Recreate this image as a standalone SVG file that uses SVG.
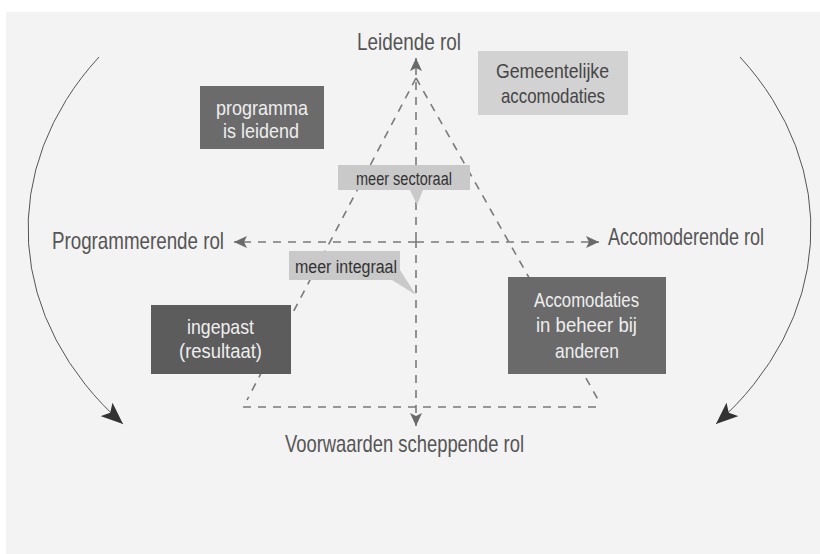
<svg xmlns="http://www.w3.org/2000/svg" width="820" height="554" viewBox="0 0 820 554">
<style>
.axis{font-family:"Liberation Sans Narrow","Liberation Sans",Arial,sans-serif;font-size:24px;fill:#555555}
.bt{font-family:"Liberation Sans Narrow","Liberation Sans",Arial,sans-serif;font-size:21px;fill:#eeeeee}
.btd{font-family:"Liberation Sans Narrow","Liberation Sans",Arial,sans-serif;font-size:21px;fill:#454545}
.ct{font-family:"Liberation Sans Narrow","Liberation Sans",Arial,sans-serif;font-size:18px;fill:#333333}
.dash{stroke:#7a7a7a;stroke-width:1.6;stroke-dasharray:8 7;fill:none}
.arc{stroke:#555555;stroke-width:1;fill:none}
</style>
<defs>
<marker id="dk" markerUnits="userSpaceOnUse" markerWidth="24" markerHeight="18" refX="22" refY="9" orient="auto">
<path d="M0,0 L22,9 L0,18 L5,9 Z" fill="#333333"/>
</marker>
<marker id="ax" markerUnits="userSpaceOnUse" markerWidth="14" markerHeight="12" refX="13" refY="6" orient="auto">
<path d="M0,0 L13,6 L0,12 L3,6 Z" fill="#6a6a6a"/>
</marker>
</defs>
<rect x="6" y="12" width="814" height="542" fill="#f3f3f3"/>
<g id="connectors">
<path class="arc" d="M 99 57 A 385 297 0 0 0 123 424" marker-end="url(#dk)"/>
<path class="arc" d="M 740 57 A 385 297 0 0 1 716 424" marker-end="url(#dk)"/>
<line class="dash" x1="416" y1="78" x2="247" y2="400"/>
<line class="dash" x1="416" y1="78" x2="600" y2="403"/>
<line class="dash" x1="243" y1="407" x2="603" y2="407"/>
<line class="dash" x1="416" y1="240" x2="416" y2="58" marker-end="url(#ax)"/>
<line class="dash" x1="416" y1="240" x2="416" y2="426" marker-end="url(#ax)"/>
<line class="dash" x1="416" y1="242" x2="234" y2="242" marker-end="url(#ax)"/>
<line class="dash" x1="416" y1="242" x2="599" y2="242" marker-end="url(#ax)"/>
</g>
<g id="label-leidend"><text class="axis" x="357" y="50" textLength="104" lengthAdjust="spacingAndGlyphs">Leidende rol</text></g>
<g id="label-programmerend"><text class="axis" x="52" y="249" textLength="172" lengthAdjust="spacingAndGlyphs">Programmerende rol</text></g>
<g id="label-accomoderend"><text class="axis" x="608" y="245" textLength="156" lengthAdjust="spacingAndGlyphs">Accomoderende rol</text></g>
<g id="label-voorwaarden"><text class="axis" x="285" y="452" textLength="239" lengthAdjust="spacingAndGlyphs">Voorwaarden scheppende rol</text></g>
<g id="box-programma">
<rect x="200" y="86" width="124" height="63" fill="#6b6b6b"/>
<text class="bt" x="216" y="115" textLength="92" lengthAdjust="spacingAndGlyphs">programma</text>
<text class="bt" x="223" y="138" textLength="76" lengthAdjust="spacingAndGlyphs">is leidend</text>
</g>
<g id="box-gemeentelijk">
<rect x="478" y="51" width="150" height="64" fill="#d2d2d2"/>
<text class="btd" x="496" y="78" textLength="113" lengthAdjust="spacingAndGlyphs">Gemeentelijke</text>
<text class="btd" x="501" y="103" textLength="104" lengthAdjust="spacingAndGlyphs">accomodaties</text>
</g>
<g id="callout-sectoraal">
<path d="M338,165 H470 V190 H423 L417,205 L410,190 H338 Z" fill="#c9c9c9"/>
<text class="ct" x="356" y="185" textLength="96" lengthAdjust="spacingAndGlyphs">meer sectoraal</text>
</g>
<g id="callout-integraal">
<path d="M289,251 H400 V270 L416,295 L392,280 H289 Z" fill="#c9c9c9"/>
<text class="ct" x="295" y="273" textLength="102" lengthAdjust="spacingAndGlyphs">meer integraal</text>
</g>
<g id="box-ingepast">
<rect x="151" y="305" width="140" height="69" fill="#5c5c5c"/>
<text class="bt" x="187" y="334" textLength="67" lengthAdjust="spacingAndGlyphs">ingepast</text>
<text class="bt" x="179" y="358" textLength="83" lengthAdjust="spacingAndGlyphs">(resultaat)</text>
</g>
<g id="box-accomodaties">
<rect x="508" y="277" width="158" height="97" fill="#6a6a6a"/>
<text class="bt" x="534" y="307" textLength="105" lengthAdjust="spacingAndGlyphs">Accomodaties</text>
<text class="bt" x="536" y="332" textLength="101" lengthAdjust="spacingAndGlyphs">in beheer bij</text>
<text class="bt" x="555" y="358" textLength="64" lengthAdjust="spacingAndGlyphs">anderen</text>
</g>
</svg>
